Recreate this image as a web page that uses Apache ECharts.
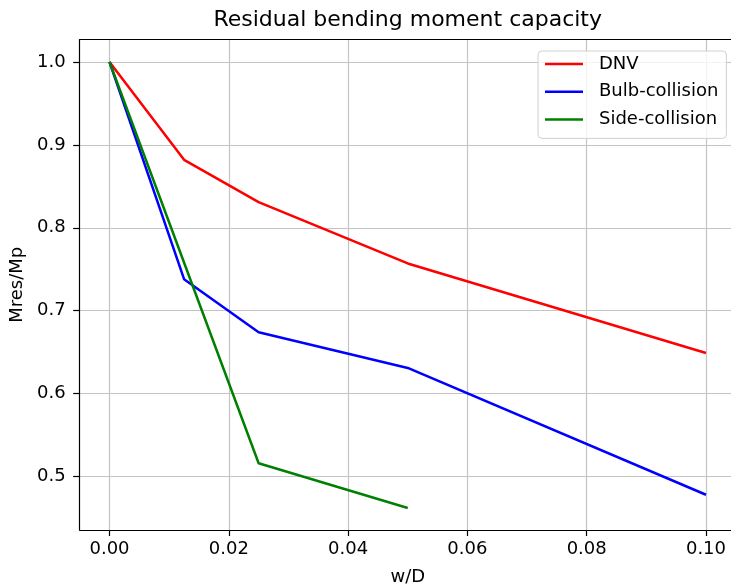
<!DOCTYPE html>
<html>
<head>
<meta charset="utf-8">
<script src="https://cdn.jsdelivr.net/npm/echarts@6/dist/echarts.min.js"></script>
<style>
  html, body { margin: 0; padding: 0; background: #fff; }
  #chart { width: 731px; height: 588px; }
</style>
</head>
<body>
<div id="chart"></div>
<script>
// Relative damage depth w/D and residual moment ratio Mres/Mp
const dnvX = [0, 0.0125, 0.025, 0.05, 0.1];
const dnvY = [1.0, 0.882, 0.831, 0.757, 0.649];
const bulbX = [0, 0.0125, 0.025, 0.05, 0.1];
const bulbY = [1.0, 0.738, 0.674, 0.631, 0.478];
const sideX = [0, 0.025, 0.05];
const sideY = [1.0, 0.516, 0.462];

const xTicks = [0, 0.02, 0.04, 0.06, 0.08, 0.10];
const yTicks = [0.5, 0.6, 0.7, 0.8, 0.9, 1.0];

const seriesNames = ['DNV', 'Bulb-collision', 'Side-collision'];
const seriesColors = ['#ff0000', '#0000ff', '#008000'];

function pairs(xs, ys) { return xs.map((x, i) => [x, ys[i]]); }

const FONT = 'DejaVu Sans';
const FS = 18;
const X_MIN = -0.005, X_MAX = 0.105;
const chart = echarts.init(document.getElementById('chart'), null, { renderer: 'canvas' });

const series = [pairs(dnvX, dnvY), pairs(bulbX, bulbY), pairs(sideX, sideY)].map((d, i) => ({
  name: seriesNames[i],
  type: 'line',
  data: d,
  symbol: 'none',
  color: seriesColors[i],
  lineStyle: { color: seriesColors[i], width: 2.5 },
  z: 3
}));

const frameLine = { show: true, onZero: false, lineStyle: { color: '#000', width: 1.2 } };

chart.setOption({
  animation: false,
  backgroundColor: '#fff',
  title: {
    text: 'Residual bending moment capacity',
    left: 407.7, textAlign: 'center', top: 9, padding: 0,
    textStyle: { fontFamily: FONT, fontSize: 22, fontWeight: 'normal', color: '#000' }
  },
  grid: {
    left: 79.7, top: 39.7, width: 656.1, height: 490.3,
    outerBoundsMode: 'none', containLabel: false, show: false
  },
  legend: {
    orient: 'vertical',
    left: 538, top: 51,
    data: seriesNames,
    icon: 'rect',
    itemWidth: 38, itemHeight: 2.5, itemGap: 9.7,
    padding: [4, 8, 10, 7],
    backgroundColor: 'rgba(255,255,255,0.8)',
    borderColor: '#d0d0d0', borderWidth: 1, borderRadius: 4,
    textStyle: { fontFamily: FONT, fontSize: FS, color: '#000', lineHeight: 18, padding: [0, 0, 0, 11] }
  },
  xAxis: [{
    type: 'value', min: X_MIN, max: X_MAX,
    name: 'w/D', nameLocation: 'middle', nameGap: 38,
    nameTextStyle: { fontFamily: FONT, fontSize: FS, color: '#000' },
    axisLine: frameLine,
    axisTick: { show: true, length: 6, customValues: xTicks, lineStyle: { color: '#000', width: 1.2 } },
    axisLabel: { customValues: xTicks, margin: 10, fontFamily: FONT, fontSize: FS, color: '#000',
      formatter: v => v.toFixed(2) },
    splitLine: { show: true, lineStyle: { color: '#c4c4c4', width: 1.2 } }
  }, {
    // top edge of the frame
    type: 'value', position: 'top', min: X_MIN, max: X_MAX,
    axisLine: frameLine, axisTick: { show: false }, axisLabel: { show: false }, splitLine: { show: false }
  }],
  yAxis: {
    type: 'value', min: 0.4355, max: 1.0269,
    name: 'Mres/Mp', nameLocation: 'middle', nameGap: 51,
    nameTextStyle: { fontFamily: FONT, fontSize: FS, color: '#000' },
    axisLine: frameLine,
    axisTick: { show: true, length: 6.5, customValues: yTicks, lineStyle: { color: '#000', width: 1.2 } },
    axisLabel: { customValues: yTicks, margin: 14, fontFamily: FONT, fontSize: FS, color: '#000',
      formatter: v => v.toFixed(1) },
    splitLine: { show: true, lineStyle: { color: '#c4c4c4', width: 1.2 } }
  },
  series: series
});
</script>
</body>
</html>
